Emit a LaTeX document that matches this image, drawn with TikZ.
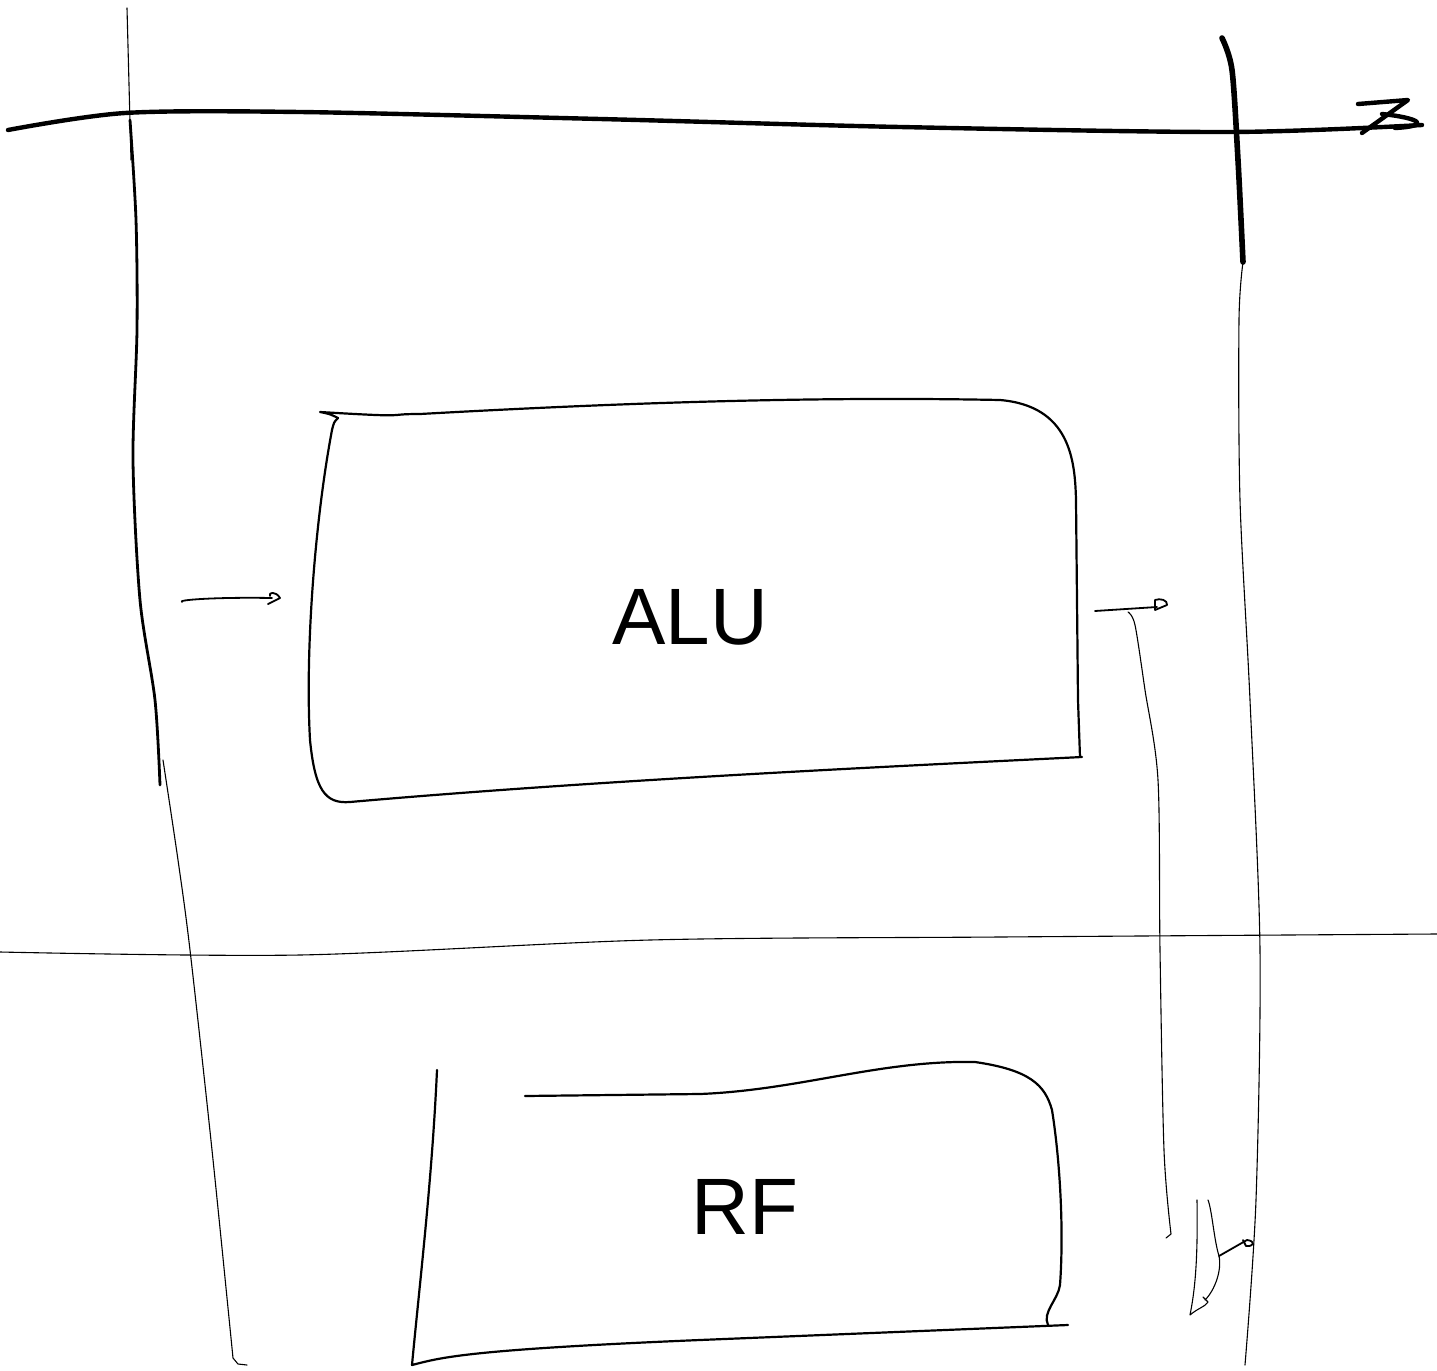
\documentclass[tikz,border=0pt]{standalone}
\usepackage{fontspec}
\setmainfont{Liberation Sans}
\begin{document}
\begin{tikzpicture}[x=0.5pt,y=-0.5pt,
  heavy/.style={line width=2.2pt,line cap=round,line join=round},
  mid/.style={line width=1.4pt,line cap=round,line join=round},
  boxline/.style={line width=1.1pt,line cap=round,line join=round},
  fine/.style={line width=0.55pt,line cap=round,line join=round},
  lbl/.style={font=\fontsize{40}{44}\selectfont,inner sep=0pt}]
\useasboundingbox (0,0) rectangle (1437,1371);
% top horizontal thick line
\draw[heavy] plot[smooth,tension=0.5] coordinates {(8,130) (125,113) (300,112) (600,119) (900,127) (1230,132) (1422,125)};
% arrowhead
\draw[heavy] (1358,104) -- (1408,100) -- (1362,133);
\draw[heavy] (1382,114) .. controls (1420,118) and (1432,126) .. (1395,128);
% left vertical line
\draw[fine] (127,8) -- (131,160);
\draw[mid] plot[smooth,tension=0.5] coordinates {(130,120) (136,220) (137,330) (133,460) (140,600) (155,700) (160,785)};
\draw[fine] plot[smooth,tension=0.5] coordinates {(163,760) (178,860) (190,950) (212,1150) (233,1358)} -- (238,1364) -- (247,1365);
% right vertical line
\draw[line width=2.8pt,line cap=round] plot[smooth,tension=0.5] coordinates {(1222,38) (1232,70) (1238,160) (1243,262)};
\draw[fine] plot[smooth,tension=0.5] coordinates {(1243,262) (1239,320) (1240,500) (1250,700) (1260,950) (1256,1200) (1245,1365)};
% ALU box
\draw[boxline] (338,418) .. controls (330,414) .. (320,412)
  .. controls (420,418) and (380,414) .. (420,414)
  .. controls (600,404) and (800,396) .. (1000,400)
  .. controls (1070,406) and (1075,460) .. (1076,500)
  -- (1078,700) -- (1080,757) -- (1082,757)
  .. controls (900,766) and (600,780) .. (350,802)
  .. controls (325,804) and (315,790) .. (310,740)
  .. controls (305,650) and (315,520) .. (332,430)
  .. controls (334,422) .. (338,418);
\node[lbl] (alu) at (690,617) {ALU};
% small input arrow
\draw[mid,line width=0.9pt] (182,602) .. controls (176,600) and (215,597) .. (272,598);
\draw[mid,line width=0.9pt] (268,604) -- (280,598) .. controls (276,591) and (268,592) .. (270,596);
% output arrow
\draw[mid,line width=0.9pt] (1095,611) -- (1157,607);
\draw[mid,line width=0.9pt] (1155,610) -- (1167,605) .. controls (1168,600) and (1160,598) .. (1155,600) -- (1155,610);
\draw[fine] plot[smooth,tension=0.5] coordinates {(1128,612) (1135,625) (1145,690) (1158,780) (1160,950) (1164,1150) (1171,1234)} -- (1166,1238);
% bottom horizontal line
\draw[fine] plot[smooth,tension=0.5] coordinates {(0,952) (300,955) (650,940) (1000,937) (1437,934)};
% RF box
\draw[boxline] (437,1070) .. controls (432,1180) and (420,1280) .. (412,1365)
  .. controls (440,1358) and (460,1350) .. (700,1340)
  -- (1068,1325);
\draw[boxline] (1048,1325) .. controls (1042,1312) and (1058,1300) .. (1060,1285)
  .. controls (1064,1230) and (1060,1160) .. (1052,1110)
  .. controls (1045,1085) and (1030,1070) .. (975,1062)
  .. controls (880,1060) and (800,1090) .. (700,1094)
  -- (525,1096);
\node[lbl] (rf) at (745,1207) {RF};
% squiggles bottom right
\draw[fine] (1197,1200) .. controls (1198,1260) and (1195,1290) .. (1190,1315)
  .. controls (1198,1308) and (1205,1307) .. (1208,1302) -- (1203,1297);
\draw[fine] (1208,1200) .. controls (1212,1210) and (1214,1240) .. (1219,1256)
  .. controls (1222,1270) and (1215,1290) .. (1205,1300);
\draw[mid,line width=0.9pt] (1219,1256) -- (1247,1240) .. controls (1256,1241) and (1254,1247) .. (1246,1246) -- (1243,1240);
\end{tikzpicture}
\end{document}
